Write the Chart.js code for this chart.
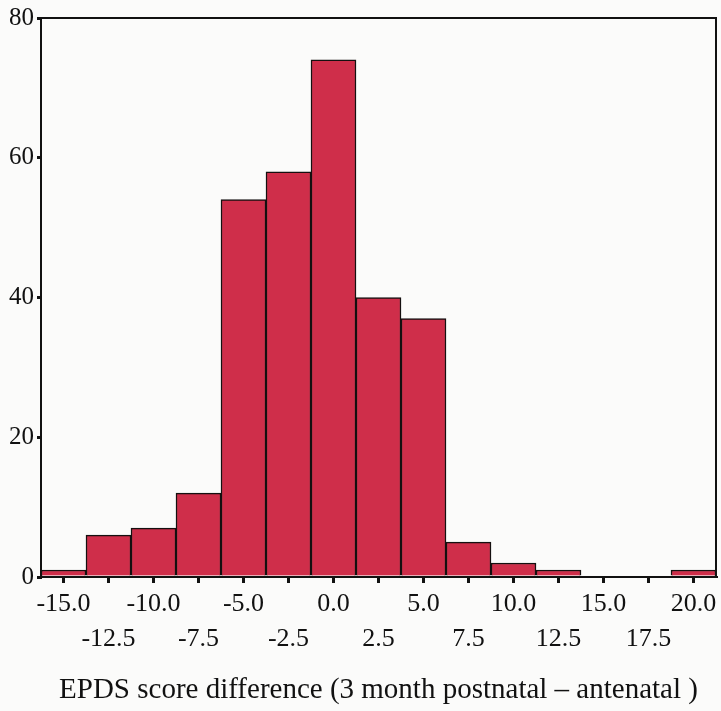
<!DOCTYPE html>
<html>
<head>
<meta charset="utf-8">
<script src="https://cdn.jsdelivr.net/npm/chart.js@4"></script>
<style>
  body { margin: 0; background: #fbfbfa; }
  #wrap { width: 721px; height: 711px; position: relative; }
</style>
</head>
<body>
<div id="wrap"><canvas id="histChart"></canvas></div>
<script>
// histogram bins (centre of each 2.5 wide bin) and their counts
const binCenters = [-15, -12.5, -10, -7.5, -5, -2.5, 0, 2.5, 5, 7.5, 10, 12.5, 15, 17.5, 20];
const counts = [1, 6, 7, 12, 54, 58, 74, 40, 37, 5, 2, 1, 0, 0, 1];
const xTickValues = [-15, -12.5, -10, -7.5, -5, -2.5, 0, 2.5, 5, 7.5, 10, 12.5, 15, 17.5, 20];
const yTickValues = [0, 20, 40, 60, 80];
const xTitle = "EPDS score difference (3 month postnatal \u2013 antenatal )";

const serif = "'Liberation Serif', 'Times New Roman', serif";

// box round the plot area
const framePlugin = {
  id: "frame",
  afterDraw(chart) {
    const { ctx, chartArea } = chart;
    ctx.save();
    ctx.strokeStyle = "#111";
    ctx.lineWidth = 2;
    ctx.strokeRect(chartArea.left, chartArea.top, chartArea.right - chartArea.left, chartArea.bottom - chartArea.top);
    ctx.restore();
  }
};

const bgPlugin = {
  id: "bg",
  beforeDraw(chart) {
    const { ctx, width, height } = chart;
    ctx.save();
    ctx.fillStyle = "#fbfbfa";
    ctx.fillRect(0, 0, width, height);
    ctx.restore();
  }
};

new Chart(document.getElementById("histChart").getContext("2d"), {
  type: "bar",
  data: {
    datasets: [
      {
        data: binCenters.map((x, i) => ({ x: x, y: counts[i] })),
        backgroundColor: "#cf2e4a",
        borderColor: "#151010",
        borderWidth: 1.5,
        barPercentage: 1,
        categoryPercentage: 1
      }
    ]
  },
  options: {
    responsive: true,
    maintainAspectRatio: false,
    animation: false,
    layout: { padding: { top: 17, right: 5, left: 0, bottom: 0 } },
    plugins: {
      legend: { display: false },
      tooltip: { enabled: false }
    },
    scales: {
      x: {
        type: "linear",
        min: -16.25,
        max: 21.25,
        offset: false,
        afterBuildTicks: (axis) => {
          axis.ticks = xTickValues.map((v) => ({ value: v }));
        },
        afterFit: (axis) => {
          axis.height = 134;
        },
        grid: {
          display: true,
          offset: false,
          drawOnChartArea: false,
          drawTicks: true,
          tickLength: 6,
          color: "#111",
          lineWidth: 3
        },
        border: { display: true, color: "#111", width: 2 },
        ticks: {
          autoSkip: false,
          maxRotation: 0,
          padding: 4,
          color: "#111",
          font: { family: serif, size: 26, lineHeight: 1.35 },
          callback: function (value, index) {
            const label = Number(value).toFixed(1);
            return index % 2 === 0 ? [label, ""] : ["", label];
          }
        },
        title: {
          display: true,
          text: xTitle,
          color: "#111",
          font: { family: serif, size: 29, lineHeight: 1.2 },
          padding: { top: 0, bottom: 3 }
        }
      },
      y: {
        min: 0,
        max: 80,
        afterBuildTicks: (axis) => {
          axis.ticks = yTickValues.map((v) => ({ value: v }));
        },
        afterFit: (axis) => {
          axis.width = 41;
        },
        grid: {
          display: true,
          drawOnChartArea: false,
          drawTicks: true,
          tickLength: 4,
          color: "#111",
          lineWidth: 3
        },
        border: { display: true, color: "#111", width: 2 },
        ticks: {
          padding: 3,
          color: "#111",
          font: { family: serif, size: 25 }
        }
      }
    }
  },
  plugins: [bgPlugin, framePlugin]
});
</script>
</body>
</html>
